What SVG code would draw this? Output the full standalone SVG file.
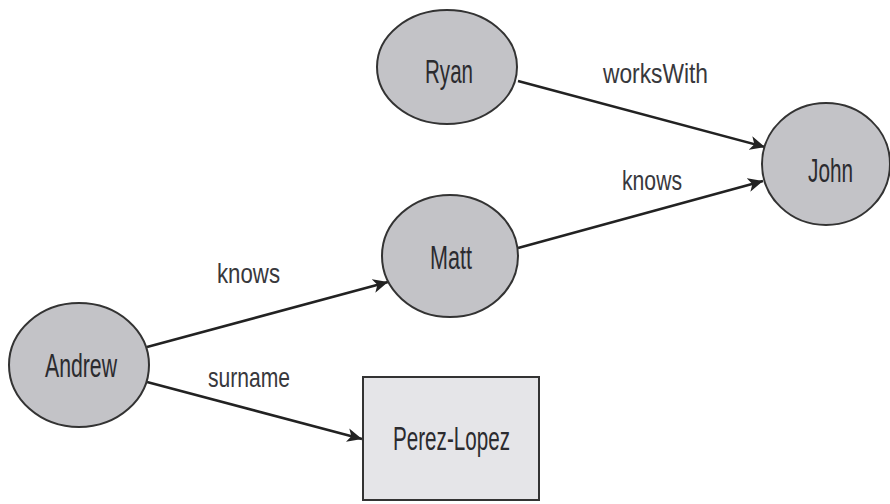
<svg xmlns="http://www.w3.org/2000/svg" width="890" height="504" viewBox="0 0 890 504">
<style>
.node ellipse{fill:#c3c3c7;stroke:#333;stroke-width:2}
.node rect{fill:#e5e5e8;stroke:#333;stroke-width:2}
.nt{font-family:"Liberation Sans",Arial,sans-serif;font-size:34px;fill:#2b2b2f}
.lt{font-family:"Liberation Sans",Arial,sans-serif;font-size:28px;fill:#38383c}
.edge{stroke:#222;stroke-width:2.5;fill:none;marker-end:url(#arr)}
</style>
<defs>
<marker id="arr" markerUnits="userSpaceOnUse" markerWidth="16" markerHeight="14" refX="15" refY="7" orient="auto">
<path d="M0,0 L15,7 L0,14 L4,7 z" fill="#222"/>
</marker>
</defs>
<rect width="890" height="504" fill="#fff"/>
<g id="connectors">
<line class="edge" x1="518" y1="81" x2="765" y2="147"/>
<line class="edge" x1="518" y1="248" x2="763" y2="181"/>
<line class="edge" x1="147" y1="347" x2="388" y2="282"/>
<line class="edge" x1="147" y1="382" x2="362" y2="439"/>
<text class="lt" x="603" y="83" textLength="105" lengthAdjust="spacingAndGlyphs">worksWith</text>
<text class="lt" x="622" y="190" textLength="60" lengthAdjust="spacingAndGlyphs">knows</text>
<text class="lt" x="217" y="283" textLength="63" lengthAdjust="spacingAndGlyphs">knows</text>
<text class="lt" x="208" y="387" textLength="82" lengthAdjust="spacingAndGlyphs">surname</text>
</g>
<g id="ryan" class="node">
<ellipse cx="447" cy="67" rx="70" ry="57"/>
<text class="nt" x="425" y="83" textLength="48" lengthAdjust="spacingAndGlyphs">Ryan</text>
</g>
<g id="john" class="node">
<ellipse cx="826" cy="164" rx="64" ry="61"/>
<text class="nt" x="808" y="182" textLength="45" lengthAdjust="spacingAndGlyphs">John</text>
</g>
<g id="matt" class="node">
<ellipse cx="450" cy="256" rx="68" ry="61"/>
<text class="nt" x="430" y="269" textLength="42" lengthAdjust="spacingAndGlyphs">Matt</text>
</g>
<g id="andrew" class="node">
<ellipse cx="79" cy="365" rx="70" ry="62"/>
<text class="nt" x="45" y="377" textLength="72" lengthAdjust="spacingAndGlyphs">Andrew</text>
</g>
<g id="perez-lopez" class="node">
<rect x="363" y="377" width="176" height="123"/>
<text class="nt" x="393" y="450" textLength="117" lengthAdjust="spacingAndGlyphs">Perez-Lopez</text>
</g>
</svg>
